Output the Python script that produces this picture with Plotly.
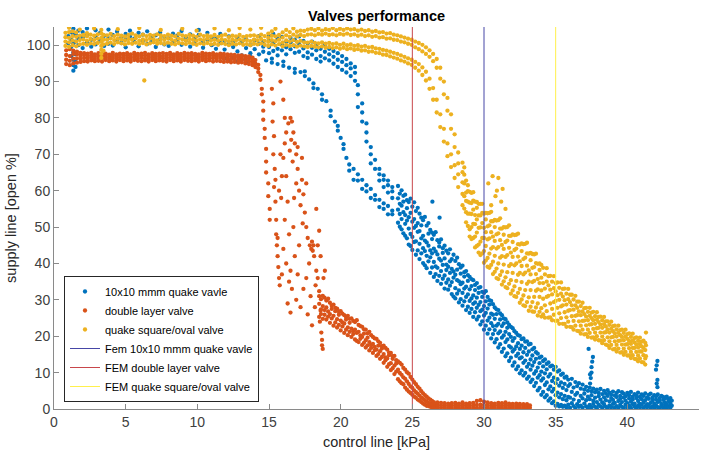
import plotly.graph_objects as go

# ---------------- DATA ----------------
# Each column entry: [x, y1, y2, ...]
blue_flat = [
    [1.0, 100.5, 102.5], [1.2, 97.0, 99.5, 101.5, 103.5],
    [1.35, 93.0, 94.5, 96.0, 98.0, 100.5, 102.8, 104.5], [1.5, 94.0, 95.5, 97.5, 101.0, 103.0],
    [1.7, 100.0, 101.8, 104.0], [2.0, 99.2, 102.2, 103.6], [2.3, 100.8, 102.9, 104.6],
    [2.6, 99.6, 101.5], [2.9, 100.2, 102.4, 104.1], [3.2, 101.1, 103.3], [3.5, 99.8, 102.6],
    [3.8, 100.4, 101.9, 104.3], [4.1, 99.9, 102.8], [4.4, 101.3, 103.7], [4.7, 100.6, 102.1],
    [5.0, 99.4, 101.6, 103.1], [5.3, 102.4, 104.0], [5.6, 100.9, 101.8], [5.9, 99.7, 103.4],
    [6.2, 101.2, 102.9], [6.5, 100.3, 103.8], [6.8, 101.0, 102.0], [7.1, 99.5, 102.7],
    [7.4, 101.6, 103.5], [7.7, 100.2, 102.3], [8.0, 99.8, 101.9], [8.3, 100.7, 103.2],
    [8.6, 101.4, 102.6], [8.9, 100.1, 103.9], [9.2, 101.3, 102.2], [9.5, 99.6, 103.0],
    [9.8, 100.5, 101.7], [10.1, 102.8, 104.2], [10.4, 99.3, 100.9], [10.7, 101.5, 103.4],
    [11.0, 100.0, 102.1], [11.3, 99.0, 101.8], [11.6, 100.6, 103.1], [11.9, 96.3, 98.8, 101.2],
    [12.2, 95.8, 100.3, 102.4], [12.5, 96.5, 99.5, 101.0], [12.8, 95.5, 98.3, 102.0],
    [13.1, 96.0, 97.2, 100.8], [13.4, 95.4, 99.2, 101.6], [13.7, 96.8, 97.8, 100.0],
    [14.0, 95.9, 98.9, 101.3], [14.3, 97.5, 100.4, 102.5], [14.6, 98.2, 99.6, 101.0],
]
blue_upper = [
    [15.0, 97.8, 99.5, 101.2, 102.6], [15.3, 98.4, 100.6, 103.1], [15.6, 97.2, 99.0, 101.8],
    [15.9, 98.6, 100.2, 102.3], [16.2, 97.5, 99.4, 101.0], [16.5, 98.9, 100.8, 102.0],
    [16.8, 97.9, 99.7, 101.5], [17.1, 98.2, 100.3, 102.4], [17.4, 97.0, 99.1, 101.2],
    [17.7, 96.5, 98.0, 100.5], [18.0, 97.4, 99.3, 101.0], [18.3, 96.2, 98.6, 100.2],
    [18.6, 95.5, 97.0, 99.0], [18.9, 96.4, 98.2, 100.1], [19.2, 95.8, 97.5, 99.0],
    [19.5, 94.9, 96.8, 98.4], [19.8, 94.0, 96.0, 97.8], [20.1, 93.2, 95.4, 97.0],
    [20.4, 92.5, 94.5, 96.2], [20.7, 91.5, 93.6, 95.0], [21.0, 90.2, 92.4, 94.0],
    [21.2, 83.0, 86.5, 89.0], [21.5, 79.0, 81.5, 84.0], [21.8, 73.5, 76.0, 78.5],
    [22.1, 67.5, 70.0, 72.0], [22.4, 66.0, 68.5], [22.7, 62.8, 64.5, 66.0],
    [23.0, 61.0, 63.0, 64.2], [23.3, 59.5, 61.5, 62.8], [23.6, 58.0, 59.8, 61.0],
]
blue_lower = [
    [14.8, 95.8], [15.2, 95.2, 96.3], [15.6, 94.8], [16.0, 94.3, 95.5], [16.4, 93.8],
    [16.8, 92.4, 93.5], [17.2, 92.6], [17.5, 91.5, 92.8], [17.8, 90.6], [18.1, 88.2, 89.5],
    [18.4, 88.0], [18.7, 85.0, 86.5], [19.0, 84.6], [19.3, 80.5, 82.0], [19.6, 79.0],
    [19.8, 76.5, 77.8], [20.0, 74.5], [20.2, 71.5, 72.8], [20.4, 69.0], [20.6, 65.5, 67.2],
    [20.9, 66.0, 63.0], [21.2, 62.8, 64.5], [21.5, 63.0, 60.5], [21.8, 59.8, 61.5],
    [22.1, 60.5, 58.0], [22.4, 57.5, 58.8], [22.7, 57.5, 55.5], [23.0, 55.0, 56.5],
    [23.3, 55.8, 53.5], [23.6, 53.5, 54.5],
]
blue_band = [
    [24.0, 51.2, 54.8, 57.9, 61.3], [24.125, 50.1, 53.6, 56.4, 59.2], [24.25, 49.4, 52.2, 55.9, 60.1],
    [24.375, 48.3, 54.1, 57.0, 58.6], [24.5, 47.6, 50.9, 53.3, 58.9], [24.625, 46.9, 51.8, 55.2, 57.4],
    [24.75, 45.2, 49.6, 52.7, 56.9], [24.875, 44.8, 48.1, 53.9, 57.8], [25.0, 43.7, 47.3, 51.5, 55.6],
    [25.125, 45.9, 49.8, 52.2, 56.8], [25.25, 42.4, 46.1, 50.3, 54.4], [25.375, 43.6, 48.7, 51.1, 55.3],
    [25.5, 41.2, 45.4, 48.9, 53.7], [25.625, 42.8, 46.9, 50.5, 52.6], [25.75, 40.1, 44.2, 47.6, 51.9],
    [25.875, 39.5, 43.4, 46.3, 52.8], [26.0, 38.7, 42.1, 45.8, 50.4], [26.125, 40.6, 44.9, 48.2, 51.1],
    [26.25, 37.4, 41.7, 43.6, 49.2], [26.375, 38.9, 42.8, 46.7, 48.5], [26.5, 36.3, 40.4, 44.1, 47.9],
    [26.625, 37.1, 39.2, 43.3, 48.6], [26.75, 35.2, 38.8, 42.5, 46.4], [26.875, 36.6, 41.3, 44.7, 45.8],
    [27.0, 34.4, 37.9, 40.8, 46.6], [27.125, 35.8, 39.6, 42.9, 44.2], [27.25, 33.1, 36.7, 41.4, 44.9],
    [27.375, 34.7, 38.2, 39.7, 43.5], [27.5, 32.8, 35.6, 39.1, 42.8], [27.625, 33.9, 37.4, 40.6, 43.9],
    [27.75, 31.6, 34.9, 38.5, 41.2], [27.875, 30.9, 36.1, 37.8, 42.4], [28.0, 30.4, 33.2, 36.9, 40.7],
    [28.125, 31.7, 35.4, 38.3, 41.6], [28.25, 29.3, 32.6, 35.1, 39.8], [28.375, 30.2, 34.3, 37.2, 38.9],
    [28.5, 28.4, 31.9, 34.7, 39.4], [28.625, 29.6, 33.1, 36.4, 37.6], [28.75, 27.2, 30.8, 33.6, 37.9],
    [28.875, 28.1, 31.5, 35.2, 36.8], [29.0, 26.4, 29.7, 32.9, 36.3], [29.125, 27.5, 30.4, 33.8, 35.7],
    [29.25, 25.3, 28.9, 31.2, 35.4], [29.375, 26.6, 29.3, 32.7, 34.1], [29.5, 24.6, 27.8, 30.6, 34.6],
    [29.625, 25.4, 28.6, 31.9, 33.3], [29.75, 23.2, 26.9, 29.4, 33.5], [29.875, 24.1, 27.3, 30.8, 32.2],
    [30.0, 21.8, 25.7, 28.3, 31.9], [30.125, 22.9, 26.4, 29.6, 32.4], [30.25, 20.7, 24.3, 27.6, 30.8],
    [30.375, 21.9, 25.1, 28.7, 29.9], [30.5, 19.4, 23.6, 26.2, 29.7], [30.625, 20.6, 22.8, 25.9, 28.8],
    [30.75, 18.3, 21.7, 24.8, 27.9], [30.875, 19.2, 22.9, 26.1, 27.4], [31.0, 16.9, 20.8, 23.4, 27.2],
    [31.125, 17.8, 21.3, 24.6, 26.3], [31.25, 15.7, 19.6, 22.8, 25.8], [31.375, 16.6, 20.2, 23.5, 24.9],
    [31.5, 14.5, 18.4, 21.2, 24.7], [31.625, 15.3, 19.1, 22.3, 23.8], [31.75, 13.2, 17.3, 20.6, 23.1],
    [31.875, 14.1, 16.9, 19.8, 22.6], [32.0, 11.9, 15.8, 18.7, 22.2], [32.125, 12.8, 16.4, 19.5, 21.4],
    [32.25, 10.9, 14.6, 17.2, 20.9], [32.375, 11.7, 15.2, 18.1, 20.3], [32.5, 9.8, 13.9, 16.5, 20.1],
    [32.625, 10.6, 14.2, 17.4, 19.2], [32.75, 9.2, 12.7, 15.6, 19.4], [32.875, 9.9, 13.3, 16.8, 18.5],
    [33.0, 8.3, 11.6, 14.9, 18.6], [33.125, 8.9, 12.4, 15.8, 17.7], [33.25, 7.4, 10.8, 13.6, 17.9],
    [33.375, 8.1, 11.9, 14.7, 16.4], [33.5, 6.3, 9.7, 12.9, 16.8], [33.625, 7.2, 10.4, 13.8, 15.6],
    [33.75, 5.1, 8.6, 11.4, 15.2], [33.875, 5.8, 9.3, 12.6, 14.1], [34.0, 3.9, 7.8, 10.3, 14.4],
    [34.125, 4.7, 8.4, 11.7, 13.2], [34.25, 3.2, 6.6, 9.8, 13.6], [34.375, 3.8, 7.3, 10.9, 12.4],
    [34.5, 2.3, 5.4, 8.9, 12.8], [34.625, 2.9, 6.2, 9.6, 11.7], [34.75, 1.6, 4.8, 7.7, 11.9],
    [34.875, 2.1, 5.5, 8.6, 10.8], [35.0, 0.9, 3.8, 7.1, 11.6], [35.125, 1.4, 4.5, 8.2, 10.3],
    [35.25, 0.7, 3.2, 6.4, 10.6], [35.375, 1.1, 4.1, 7.3, 9.4], [35.5, 0.6, 2.7, 5.8, 9.7],
    [35.625, 0.9, 3.6, 6.9, 8.6], [35.75, 0.5, 2.4, 5.2, 8.9], [35.875, 1.2, 3.3, 6.3, 8.1],
    [36.0, 0.4, 3.1, 6.8], [36.125, 1.6, 4.7, 8.3], [36.25, 0.8, 2.6, 5.9], [36.375, 0.3, 3.9, 7.4],
    [36.5, 1.3, 4.4, 6.3], [36.625, 0.6, 2.2, 7.1], [36.75, 0.9, 3.6, 5.6], [36.875, 0.4, 2.9, 6.7],
    [37.0, 1.5, 4.2, 5.3], [37.125, 0.7, 2.4, 6.1], [37.25, 0.3, 3.4, 5.0], [37.375, 1.1, 2.7, 5.9],
    [37.5, 0.5, 3.8, 4.9], [37.625, 1.4, 2.3, 5.6], [37.75, 0.6, 3.1, 4.6], [37.875, 0.3, 1.9, 5.3],
    [38.0, 1.2, 3.5, 4.4], [38.125, 0.7, 2.6, 5.5], [38.25, 0.4, 1.8, 4.1], [38.375, 1.3, 3.2, 5.0],
    [38.5, 0.6, 2.4, 4.3], [38.625, 0.3, 3.6, 5.2], [38.75, 1.0, 2.1, 4.5], [38.875, 0.5, 3.0, 3.9],
    [39.0, 1.4, 2.5, 4.8], [39.125, 0.4, 1.7, 3.7], [39.25, 0.8, 3.3, 4.4], [39.375, 0.3, 2.2, 4.9],
    [39.5, 1.1, 2.8, 3.6], [39.625, 0.6, 1.9, 4.6], [39.75, 0.3, 3.1, 4.2], [39.875, 1.2, 2.3, 3.5],
    [40.0, 0.5, 1.6, 4.4], [40.125, 0.9, 2.9, 3.8], [40.25, 0.3, 2.0, 4.7], [40.375, 1.3, 2.6, 3.4],
    [40.5, 0.6, 1.5, 4.1], [40.625, 0.4, 3.0, 3.7], [40.75, 1.0, 2.2, 4.5], [40.875, 0.5, 1.4, 3.3],
    [41.0, 1.2, 2.7, 4.0], [41.125, 0.3, 1.8, 3.6], [41.25, 0.8, 2.4, 4.3], [41.375, 0.5, 1.3, 3.2],
    [41.5, 1.1, 2.8, 3.9], [41.625, 0.4, 1.7, 4.2], [41.75, 0.7, 2.3, 3.1], [41.875, 0.3, 1.5, 3.8],
    [42.0, 1.0, 2.6, 3.5], [42.125, 0.5, 1.9, 4.0], [42.25, 0.3, 2.2, 3.0], [42.375, 0.8, 1.4, 3.6],
    [42.5, 0.4, 2.5, 3.3], [42.625, 1.1, 1.8, 2.9], [42.75, 0.3, 1.2, 3.4], [42.875, 0.7, 2.1, 2.7],
    [43.0, 0.4, 1.5, 3.0], [43.1, 0.9, 2.3],
]
blue_extra_x = [26.4, 26.9, 37.3, 37.4, 37.45, 37.5, 37.5, 37.55, 37.6, 37.4, 42.0, 42.05, 42.1, 42.1, 42.05, 42.1]
blue_extra_y = [57.0, 52.6, 16.5, 7.0, 8.5, 10.0, 11.5, 13.0, 14.3, 9.5, 10.8, 12.0, 13.2, 6.0, 7.0, 8.0]

red_flat = [
    [0.85, 94.8, 96.0, 97.3, 98.6], [1.1, 94.5, 95.7, 97.0, 98.9], [1.35, 95.0, 96.3, 97.6, 98.5],
    [1.6, 95.2, 96.4, 97.5, 98.2], [1.85, 95.4, 96.2, 97.1, 97.9], [2.1, 95.6, 96.5, 97.3, 97.8],
    [2.35, 95.5, 96.3, 97.0, 97.7], [2.6, 95.8, 96.6, 97.2, 97.9], [2.85, 95.6, 96.2, 96.9, 97.5],
    [3.1, 95.7, 96.5, 97.1, 97.8], [3.35, 95.5, 96.3, 97.0, 97.6], [3.6, 95.9, 96.6, 97.3, 97.7],
    [3.85, 95.6, 96.2, 96.8, 97.4], [4.1, 95.8, 96.5, 97.2, 97.9], [4.35, 95.5, 96.3, 96.9, 97.5],
    [4.6, 95.9, 96.6, 97.3, 97.7], [4.85, 95.6, 96.3, 97.0, 97.6], [5.1, 95.8, 96.5, 97.2, 97.8],
    [5.35, 95.5, 96.2, 96.8, 97.5], [5.6, 95.9, 96.6, 97.3, 97.9], [5.85, 95.7, 96.3, 97.0, 97.6],
    [6.1, 95.6, 96.5, 97.1, 97.7], [6.35, 95.8, 96.4, 97.2, 97.9], [6.6, 95.5, 96.3, 96.9, 97.5],
    [6.85, 95.9, 96.6, 97.3, 97.8], [7.1, 95.6, 96.2, 96.9, 97.6], [7.35, 95.8, 96.5, 97.2, 97.7],
    [7.6, 95.7, 96.4, 97.0, 97.8], [7.85, 95.5, 96.3, 97.1, 97.6], [8.1, 95.9, 96.6, 97.3, 97.9],
    [8.35, 95.6, 96.3, 96.9, 97.5], [8.6, 95.8, 96.5, 97.2, 97.8], [8.85, 95.5, 96.2, 96.9, 97.6],
    [9.1, 95.9, 96.6, 97.4, 97.9], [9.35, 95.7, 96.4, 97.0, 97.7], [9.6, 95.6, 96.3, 97.2, 97.8],
    [9.85, 95.8, 96.5, 97.1, 97.6], [10.1, 95.5, 96.2, 96.9, 97.5], [10.35, 95.9, 96.6, 97.3, 97.9],
    [10.6, 95.6, 96.3, 97.0, 97.7], [10.85, 95.8, 96.5, 97.2, 97.6], [11.1, 95.5, 96.4, 97.1, 97.8],
    [11.35, 95.7, 96.3, 96.9, 97.5], [11.6, 95.6, 96.5, 97.2, 97.7], [11.85, 95.4, 96.2, 96.9, 97.6],
    [12.1, 95.5, 96.3, 97.0, 97.5], [12.35, 95.3, 96.1, 96.8, 97.4], [12.6, 95.4, 96.2, 96.9, 97.3],
    [12.85, 95.2, 96.0, 96.7, 97.2], [13.1, 95.3, 96.1, 96.8, 97.2], [13.35, 95.0, 95.8, 96.5, 97.0],
    [13.6, 94.8, 95.6, 96.3, 96.9], [13.85, 94.5, 95.3, 96.0, 96.6],
]
red_drop = [
    [14.05, 94.0, 95.0, 95.9], [14.25, 92.6, 93.6, 94.6], [14.4, 90.5, 91.8], [14.5, 88.0, 86.5],
    [14.6, 84.5, 82.0, 79.5], [14.7, 77.0, 74.5], [14.8, 71.5, 68.0, 65.0], [14.95, 62.0, 58.5],
    [15.05, 55.0, 52.0],
]
red_cloud_x = [
    15.2, 15.3, 15.25, 15.35, 15.3, 15.4, 15.35, 15.45, 15.5, 15.5, 15.55, 15.6, 15.65, 15.7,
    15.75, 15.6, 15.45, 15.7, 15.85, 15.9, 15.8, 16.0, 16.1, 16.2, 16.35, 16.5, 16.6, 16.7,
    16.55, 16.8, 16.45, 16.65, 16.9, 17.0, 16.9, 17.1, 16.75, 17.2, 17.3, 17.4, 17.5, 17.35,
    17.6, 17.7, 17.85, 17.95, 18.05, 18.1, 18.0, 18.15, 17.8, 18.3, 18.4, 18.25, 18.5, 18.6,
    18.55, 18.65, 18.7, 18.75, 18.7, 16.3, 16.1, 16.4, 16.0, 16.2, 16.5, 16.8, 17.0, 16.6,
    16.9, 16.3, 16.5, 17.2, 17.4, 17.6, 17.9, 17.7, 18.0, 18.2, 17.1, 16.7, 16.2, 17.6, 18.3,
    18.5, 18.8, 16.0, 15.8, 16.1, 17.0, 17.3, 15.9, 16.4, 18.4, 18.6, 18.9,
]
red_cloud_y = [
    88.0, 84.0, 79.0, 75.0, 70.0, 66.0, 61.0, 57.0, 52.0, 48.0, 45.0, 42.0, 39.0, 36.0,
    34.0, 47.0, 63.0, 60.0, 58.0, 64.0, 70.0, 69.0, 73.0, 76.0, 78.5, 80.0, 79.0, 76.0,
    74.0, 73.0, 71.0, 68.0, 70.0, 66.0, 62.0, 60.0, 58.0, 56.0, 63.0, 59.0, 54.0, 51.0,
    50.0, 47.0, 45.0, 44.0, 43.5, 45.0, 46.0, 42.0, 40.0, 38.0, 36.0, 34.0, 31.0, 27.0,
    24.0, 21.0, 19.0, 16.5, 17.5, 57.0, 52.0, 48.0, 44.0, 40.0, 38.0, 42.0, 37.0, 33.0,
    30.0, 29.0, 26.5, 28.0, 33.0, 36.0, 31.0, 26.0, 23.0, 28.0, 45.0, 50.0, 64.0, 62.0, 55.0,
    49.0, 36.0, 85.0, 90.0, 80.0, 72.0, 69.0, 37.0, 35.0, 45.0, 42.0, 38.0,
]
red_band = [
    [18.5, 25.3, 28.9, 32.4], [18.625, 26.1, 30.2, 27.4], [18.75, 24.8, 28.3, 31.1], [18.875, 25.9, 27.2, 30.6],
    [19.0, 24.6, 27.9, 29.8], [19.125, 25.4, 26.8, 30.3], [19.25, 23.7, 26.1, 29.2], [19.375, 24.9, 27.5, 28.4],
    [19.5, 22.9, 25.6, 28.7], [19.625, 23.8, 26.9, 27.8], [19.75, 22.4, 24.7, 27.6], [19.875, 23.1, 25.9, 26.8],
    [20.0, 21.6, 24.3, 26.9], [20.125, 22.7, 23.8, 26.2], [20.25, 20.9, 23.5, 25.8], [20.375, 21.8, 24.6, 25.3],
    [20.5, 20.3, 22.4, 25.6], [20.625, 21.2, 23.7, 24.8], [20.75, 19.8, 22.1, 24.9], [20.875, 20.6, 21.4, 24.2],
    [21.0, 19.1, 21.8, 23.9], [21.125, 18.7, 20.9, 24.4], [21.25, 18.4, 21.2, 23.1], [21.375, 19.3, 20.2, 22.8],
    [21.5, 17.6, 19.8, 22.6], [21.625, 18.2, 20.7, 21.9], [21.75, 16.9, 18.9, 21.8], [21.875, 17.5, 19.6, 20.8],
    [22.0, 16.1, 18.4, 21.2], [22.125, 16.8, 17.6, 20.3], [22.25, 15.4, 17.9, 19.8], [22.375, 16.2, 17.1, 19.4],
    [22.5, 14.6, 16.3, 19.3], [22.625, 15.1, 17.4, 18.6], [22.75, 13.8, 15.9, 18.2], [22.875, 14.3, 16.6, 17.3],
    [23.0, 12.7, 15.1, 17.4], [23.125, 13.4, 14.2, 16.8], [23.25, 11.6, 13.9, 16.3], [23.375, 12.3, 14.8, 15.5],
    [23.5, 10.7, 12.6, 15.4], [23.625, 11.2, 13.8, 14.5], [23.75, 9.6, 11.9, 14.6], [23.875, 10.3, 12.5, 13.4],
    [24.0, 8.2, 10.8, 13.1], [24.125, 7.6, 9.9, 12.7], [24.25, 7.1, 9.4, 12.2], [24.375, 6.8, 8.7, 11.3],
    [24.5, 5.9, 8.3, 10.8], [24.625, 5.3, 7.6, 10.1], [24.75, 4.8, 6.9, 9.7], [24.875, 4.4, 6.2, 8.8],
    [25.0, 3.9, 5.8, 8.1], [25.125, 3.4, 5.1, 7.4], [25.25, 3.1, 4.6, 6.8], [25.375, 2.6, 4.2, 6.1],
    [25.5, 2.3, 3.7, 5.6], [25.625, 1.9, 3.1, 4.9], [25.75, 1.5, 2.8, 4.3], [25.875, 1.2, 2.4, 3.8],
    [26.0, 0.9, 2.0, 3.4], [26.125, 0.8, 1.7, 2.9], [26.25, 0.6, 1.5, 2.6], [26.375, 0.5, 1.2, 2.2],
    [26.5, 0.4, 1.1, 1.9], [26.625, 0.6, 1.4], [26.75, 0.4, 1.2, 1.8],
    [27.0, 0.4, 1.0, 1.7], [27.25, 0.4, 1.0, 1.6], [27.5, 0.3, 0.9, 1.5],
    [27.75, 0.3, 0.9, 1.6], [28.0, 0.3, 1.0, 1.7], [28.25, 0.3, 0.9, 1.5], [28.5, 0.3, 1.0, 1.8],
    [28.75, 0.3, 0.9, 1.5], [29.0, 0.3, 0.9, 1.6], [29.25, 0.3, 1.0, 1.7], [29.5, 0.3, 1.1, 2.2],
    [29.75, 0.4, 1.2, 2.4], [30.0, 0.4, 1.1, 2.0], [30.25, 0.3, 1.0, 1.8], [30.5, 0.3, 0.9, 1.6],
    [30.75, 0.3, 0.9, 1.5], [31.0, 0.3, 1.0, 1.7], [31.25, 0.3, 0.9, 1.6], [31.5, 0.3, 1.0, 1.8],
    [31.75, 0.3, 0.9, 1.5], [32.0, 0.3, 0.9, 1.4], [32.25, 0.3, 0.8, 1.5], [32.5, 0.3, 0.9, 1.4],
    [32.75, 0.3, 0.8, 1.3], [33.0, 0.3, 0.8, 1.3], [33.2, 0.4, 1.0],
]

yellow_flat = [
    [0.8, 99.8, 101.0, 102.2, 103.4], [1.05, 99.5, 100.8, 102.0, 103.6, 104.8],
    [1.3, 100.0, 101.3, 102.5, 103.8], [1.55, 99.7, 101.0, 102.3, 103.5],
    [1.8, 100.2, 101.4, 102.6, 104.3], [2.05, 100.4, 101.6, 102.8], [2.3, 100.1, 101.2, 102.4, 103.3],
    [2.55, 100.5, 101.7, 102.9], [2.8, 100.3, 101.4, 102.6, 104.6], [3.05, 100.6, 101.8, 103.0],
    [3.3, 96.5, 97.6, 98.7, 99.8, 100.9, 102.0, 103.2, 104.2], [3.45, 98.5, 100.2, 101.5, 102.8],
    [3.7, 100.4, 101.5, 102.7], [3.95, 100.7, 101.9, 103.1], [4.2, 100.3, 101.4, 102.5],
    [4.45, 100.8, 101.8, 102.9, 104.4], [4.7, 100.5, 101.6, 102.6], [4.95, 100.2, 101.3, 102.4],
    [5.2, 100.6, 101.7, 102.8], [5.45, 100.4, 101.5, 103.2], [5.7, 100.7, 101.9, 102.7],
    [5.95, 100.3, 101.2, 102.4, 104.7], [6.2, 100.6, 101.6, 102.9], [6.45, 100.2, 101.4, 102.5],
    [6.7, 100.5, 101.8, 102.8], [6.95, 100.8, 101.5, 102.6], [7.2, 100.4, 101.3, 103.0],
    [7.45, 100.6, 101.7, 102.7, 104.2], [7.7, 100.3, 101.4, 102.5], [7.95, 100.7, 101.9, 102.9],
    [8.2, 100.4, 101.5, 102.6], [8.45, 100.2, 101.2, 102.4], [8.7, 100.6, 101.8, 103.1],
    [8.95, 100.5, 101.6, 102.7, 104.5], [9.2, 100.3, 101.3, 102.5], [9.45, 100.7, 101.7, 102.8],
    [9.7, 100.4, 101.5, 102.6], [9.95, 100.1, 101.2, 102.3, 104.0], [10.2, 100.5, 101.6, 102.9],
    [10.45, 100.3, 101.4, 102.5], [10.7, 100.6, 101.8, 102.7], [10.95, 100.2, 101.3, 102.4],
    [11.2, 100.4, 101.5, 102.8, 104.6], [11.45, 100.1, 101.2, 102.3], [11.7, 100.5, 101.6, 102.6],
    [11.95, 100.3, 101.4, 102.9], [12.2, 100.0, 101.1, 102.2, 104.1], [12.45, 100.4, 101.5, 102.6],
    [12.7, 100.2, 101.3, 102.4], [12.95, 100.5, 101.6, 102.8, 104.7], [13.2, 100.1, 101.2, 102.3],
    [13.45, 100.3, 101.4, 102.5], [13.7, 100.0, 101.1, 102.6, 104.3], [13.95, 100.4, 101.5, 102.7],
    [14.2, 100.2, 101.3, 102.4], [14.45, 100.5, 101.7, 102.9, 104.8], [14.7, 100.1, 101.2, 102.5],
]
yellow_top = [
    [14.95, 99.8, 100.9, 102.0, 103.2], [15.2, 100.2, 101.4, 102.6, 103.8], [15.45, 99.9, 101.1, 102.4, 104.5],
    [15.7, 100.3, 101.5, 102.8], [15.95, 99.7, 100.8, 102.1, 103.5], [16.2, 100.1, 101.3, 102.7, 104.2],
    [16.45, 99.8, 101.0, 102.3, 103.6], [16.7, 100.0, 101.4, 102.9, 104.6], [16.95, 99.6, 100.9, 102.4, 103.7],
    [17.2, 99.9, 101.2, 102.8, 104.0], [17.45, 99.7, 100.8, 102.5, 103.9], [17.7, 99.5, 100.7, 102.9, 104.3],
    [17.95, 99.8, 101.0, 103.0, 104.5], [18.2, 99.6, 100.6, 102.7, 104.1], [18.45, 99.4, 100.5, 103.1, 104.6],
    [18.7, 99.7, 100.8, 102.9, 104.0], [18.95, 99.3, 100.4, 103.2, 104.4], [19.2, 99.5, 100.6, 102.8, 104.2],
    [19.45, 99.2, 100.3, 103.0, 104.7], [19.7, 99.4, 100.5, 102.7, 104.1], [19.95, 99.0, 100.1, 103.1, 104.5],
    [20.2, 99.3, 100.4, 102.9, 104.2], [20.45, 98.9, 100.0, 103.2, 104.6], [20.7, 99.1, 100.2, 102.8, 104.3],
    [20.95, 98.7, 99.8, 103.0, 104.4], [21.2, 98.9, 100.0, 102.6, 104.0], [21.45, 98.5, 99.6, 102.9, 104.3],
    [21.7, 98.6, 99.8, 102.5, 103.9], [21.95, 98.2, 99.4, 102.7, 104.1], [22.2, 98.3, 99.5, 102.3, 103.7],
    [22.45, 97.9, 99.1, 102.5, 103.9], [22.7, 97.8, 99.0, 102.1, 103.5], [22.95, 97.4, 98.7, 102.2, 103.6],
    [23.2, 97.3, 98.5, 101.8, 103.2], [23.45, 96.9, 98.2, 101.9, 103.3], [23.7, 96.6, 97.9, 101.5, 102.9],
    [23.95, 96.3, 97.6, 101.4, 102.7], [24.2, 95.8, 97.2, 101.0, 102.4], [24.45, 95.5, 96.8, 100.8, 102.1],
    [24.7, 95.0, 96.4, 100.4, 101.8], [24.95, 94.6, 96.0, 100.1, 101.5],
]
yellow_branches = [
    [25.2, 93.8, 95.4, 99.4, 101.0], [25.45, 93.0, 94.8, 98.9, 100.6], [25.7, 91.8, 93.9, 98.3, 100.1],
    [25.95, 90.3, 92.7, 97.6, 99.4], [26.2, 88.0, 90.8, 96.8, 98.6], [26.45, 85.0, 88.2, 95.6, 97.6],
    [26.7, 81.5, 85.0, 93.8, 96.2], [26.95, 77.5, 81.0, 90.8, 93.8], [27.2, 73.5, 77.0, 86.5, 90.0],
    [27.45, 69.5, 73.0, 82.0, 85.5], [27.7, 66.5, 70.0, 77.0, 81.0], [27.95, 63.5, 67.0, 72.0, 75.5],
    [28.2, 61.0, 64.5, 67.5, 70.5],
]
yellow_band = [
    [28.5, 56.0, 59.1, 62.3, 65.1, 67.7], [28.625, 55.1, 58.5, 62.0, 64.4, 66.4],
    [28.75, 51.3, 54.1, 57.2, 59.5, 62.8], [28.875, 50.3, 53.7, 57.0, 59.9, 61.5],
    [29.0, 47.4, 49.4, 53.7, 56.7, 59.7], [29.125, 46.7, 50.0, 53.6, 56.6, 59.4],
    [29.25, 47.0, 50.9, 54.8, 57.3, 59.6], [29.375, 44.4, 47.4, 50.8, 53.3, 57.0],
    [29.5, 44.8, 48.5, 52.1, 55.3, 56.9], [29.625, 43.0, 45.2, 49.8, 53.2, 56.4],
    [29.75, 42.3, 46.0, 49.9, 53.2, 56.4], [29.875, 42.8, 47.0, 51.1, 53.9, 56.4],
    [30.0, 40.2, 43.4, 47.0, 49.8, 53.7], [30.125, 40.8, 44.8, 48.6, 52.1, 53.9],
    [30.25, 39.1, 41.5, 46.6, 50.2, 53.8], [30.375, 38.8, 42.7, 46.9, 50.5, 53.9],
    [30.5, 39.6, 44.1, 48.6, 51.6, 54.2], [30.625, 37.1, 40.5, 44.5, 47.4, 51.6],
    [30.75, 37.7, 42.1, 46.2, 50.0, 52.0], [30.875, 36.0, 38.6, 44.1, 48.0, 51.8],
    [31.0, 35.7, 40.0, 44.5, 48.3, 51.9], [31.125, 36.8, 41.6, 46.4, 49.6, 52.4],
    [31.25, 34.2, 37.8, 42.0, 45.1, 49.6], [31.375, 35.1, 39.7, 44.0, 47.9, 50.0],
    [31.5, 33.5, 36.2, 41.8, 45.9, 49.9], [31.625, 33.2, 37.6, 42.3, 46.3, 50.0],
    [31.75, 34.4, 39.3, 44.3, 47.6, 50.5], [31.875, 31.7, 35.4, 39.8, 43.0, 47.6],
    [32.0, 32.6, 37.4, 41.8, 45.9, 48.0], [32.125, 31.0, 33.7, 39.5, 43.7, 47.8],
    [32.25, 30.8, 35.2, 40.0, 44.1, 47.9], [32.375, 31.9, 36.9, 41.9, 45.3, 48.2],
    [32.5, 29.2, 33.0, 37.4, 40.6, 45.2], [32.625, 30.1, 34.9, 39.3, 43.4, 45.5],
    [32.75, 28.5, 31.2, 37.0, 41.2, 45.3], [32.875, 28.3, 32.7, 37.5, 41.6, 45.4],
    [33.0, 29.4, 34.4, 39.4, 42.8, 45.7], [33.125, 27.0, 30.7, 35.0, 38.1, 42.7],
    [33.25, 28.1, 32.7, 37.0, 40.9, 42.9], [33.375, 26.8, 29.4, 34.9, 38.8, 42.6],
    [33.5, 26.7, 30.8, 35.2, 39.0, 42.5], [33.625, 27.9, 32.5, 37.1, 40.1, 42.7],
    [33.75, 25.7, 29.0, 32.9, 35.7, 39.9], [33.875, 26.7, 30.8, 34.6, 38.2, 40.0],
    [34.0, 25.4, 27.7, 32.6, 36.1, 39.6], [34.125, 26.0, 30.3, 34.6, 38.8],
    [34.25, 25.1, 28.5, 33.1, 37.0], [34.375, 26.9, 30.8, 35.0, 38.7], [34.5, 25.1, 31.1, 34.0, 36.5],
    [34.625, 25.2, 29.0, 32.8, 36.6], [34.75, 24.4, 27.5, 31.5, 35.0], [34.875, 25.9, 29.4, 33.2, 36.5],
    [35.0, 24.2, 29.7, 32.3, 34.6], [35.125, 24.3, 27.8, 31.3, 34.8], [35.25, 23.4, 26.3, 30.0, 33.3],
    [35.375, 25.0, 28.2, 31.7, 34.8], [35.5, 23.4, 28.5, 30.9, 33.0], [35.625, 23.4, 26.6, 29.9, 33.1],
    [35.75, 22.6, 25.2, 28.7, 31.7], [35.875, 24.0, 27.0, 30.2, 33.0], [36.0, 22.6, 27.2, 29.4, 31.4],
    [36.125, 22.5, 25.5, 28.5, 31.4], [36.25, 21.8, 24.2, 27.3, 30.1], [36.375, 22.9, 25.6, 28.5, 31.1],
    [36.5, 21.5, 25.8, 27.8, 29.5], [36.625, 21.4, 24.1, 26.8, 29.5], [36.75, 20.7, 22.9, 25.8, 28.3],
    [36.875, 21.8, 24.2, 26.8, 29.2], [37.0, 20.5, 24.3, 26.1, 27.7], [37.125, 20.6, 23.0, 25.4, 27.8],
    [37.25, 19.8, 21.8, 24.4, 26.7], [37.375, 20.9, 23.2, 25.6, 27.8], [37.5, 19.6, 23.3, 25.0, 26.5],
    [37.625, 19.7, 22.0, 24.4, 26.7], [37.75, 19.1, 21.0, 23.4, 25.5], [37.875, 20.0, 22.2, 24.5, 26.6],
    [38.0, 18.9, 22.3, 23.9, 25.3], [38.125, 18.8, 21.0, 23.2, 25.4], [38.25, 18.1, 19.9, 22.3, 24.4],
    [38.375, 18.9, 21.0, 23.3, 25.3], [38.5, 17.7, 21.1, 22.7, 24.1], [38.625, 17.5, 19.7, 21.9, 24.1],
    [38.75, 16.8, 18.6, 21.0, 23.1], [38.875, 17.6, 19.7, 22.0, 24.0], [39.0, 16.4, 19.8, 21.4, 22.8],
    [39.125, 16.5, 18.6, 20.8, 22.9], [39.25, 15.8, 17.6, 19.9, 21.9], [39.375, 16.6, 18.7, 20.9, 22.9],
    [39.5, 15.5, 18.8, 20.3, 21.7], [39.625, 15.6, 17.7, 19.8, 21.8], [39.75, 14.9, 16.6, 18.9, 20.9],
    [39.875, 15.7, 17.7, 19.9, 21.8], [40.0, 14.7, 17.8, 19.3, 20.6], [40.125, 14.7, 16.7, 18.7, 20.8],
    [40.25, 14.0, 15.7, 17.9, 19.8], [40.375, 14.8, 16.8, 18.8, 20.7], [40.5, 13.8, 16.8, 18.3, 19.5],
    [40.625, 13.7, 15.7, 17.7, 19.7], [40.75, 13.1, 14.7, 16.9, 18.7], [40.875, 13.9, 15.8, 17.8, 19.6],
    [41.0, 12.9, 15.8, 17.2, 18.5], [41.125, 12.8, 14.8, 16.8, 18.8], [41.25, 12.2, 13.9, 16.2, 18.2],
    [41.3, 14.5, 17.5, 21.0],
]
yellow_extra_x = [6.3, 30.3, 30.6, 30.9, 31.2, 30.5, 31.5, 30.8, 31.0, 31.3]
yellow_extra_y = [90.3, 62.0, 64.0, 60.0, 57.0, 56.0, 55.0, 58.5, 63.5, 60.5]

fem_x = [30, 25, 35]          # FEM predicted closing pressures (kPa)
y_span = [0, 105]

series_names = ["10x10 mmm quake vavle", "double layer valve", "quake square/oval valve"]
fem_names = ["Fem 10x10 mmm quake vavle", "FEM double layer valve", "FEM quake square/oval valve"]
series_colors = ["#0072BD", "#D95319", "#EDB120"]
fem_colors = ["#4646A6", "#C8464B", "#FFF04D"]


def flatten(*groups):
    xs, ys = [], []
    for g in groups:
        for col in g:
            for v in col[1:]:
                xs.append(col[0])
                ys.append(v)
    return xs, ys


bx, by = flatten(blue_flat, blue_upper, blue_lower, blue_band)
bx += blue_extra_x
by += blue_extra_y
rx, ry = flatten(red_flat, red_drop, red_band)
rx += red_cloud_x
ry += red_cloud_y
yx, yy = flatten(yellow_flat, yellow_top, yellow_branches, yellow_band)
yx += yellow_extra_x
yy += yellow_extra_y

fig = go.Figure()
for xs, ys, name, col in [(bx, by, series_names[0], series_colors[0]),
                          (rx, ry, series_names[1], series_colors[1]),
                          (yx, yy, series_names[2], series_colors[2])]:
    fig.add_trace(go.Scatter(x=xs, y=ys, mode="markers", name=name,
                             marker=dict(color=col, size=4.3, line=dict(width=0))))
for xv, name, col in zip(fem_x, fem_names, fem_colors):
    fig.add_trace(go.Scatter(x=[xv, xv], y=y_span, mode="lines", name=name,
                             line=dict(color=col, width=1)))

axis_common = dict(showgrid=False, zeroline=False, showline=True, linecolor="#8a8a8a", linewidth=1,
                   ticks="inside", ticklen=5, tickcolor="#8a8a8a", tickwidth=1,
                   tickfont=dict(size=14, color="#404040"))
fig.update_layout(
    width=704, height=454,
    margin=dict(l=54, r=5, t=27, b=45),
    plot_bgcolor="white", paper_bgcolor="white",
    font=dict(family="Liberation Sans, Arial, sans-serif", size=14, color="#262626"),
    title=dict(text="<b>Valves performance</b>", x=376.5 / 704, xanchor="center",
               y=1 - 16 / 454, yanchor="middle", font=dict(size=14.5, color="#000000")),
    xaxis=dict(range=[0, 45], tickvals=[0, 5, 10, 15, 20, 25, 30, 35, 40, 45],
               title=dict(text="control line [kPa]", font=dict(size=14.5, color="#262626"), standoff=8),
               **axis_common),
    yaxis=dict(range=[0, 105], tickvals=[0, 10, 20, 30, 40, 50, 60, 70, 80, 90, 100],
               title=dict(text="supply line [open %]", font=dict(size=14.5, color="#262626"), standoff=6),
               **axis_common),
    legend=dict(x=10 / 645, y=7 / 382, xanchor="left", yanchor="bottom",
                bgcolor="white", bordercolor="#262626", borderwidth=1,
                font=dict(size=11, color="#000000"), tracegroupgap=0, itemsizing="trace"),
    showlegend=True,
)
fig.write_html("out.html")
